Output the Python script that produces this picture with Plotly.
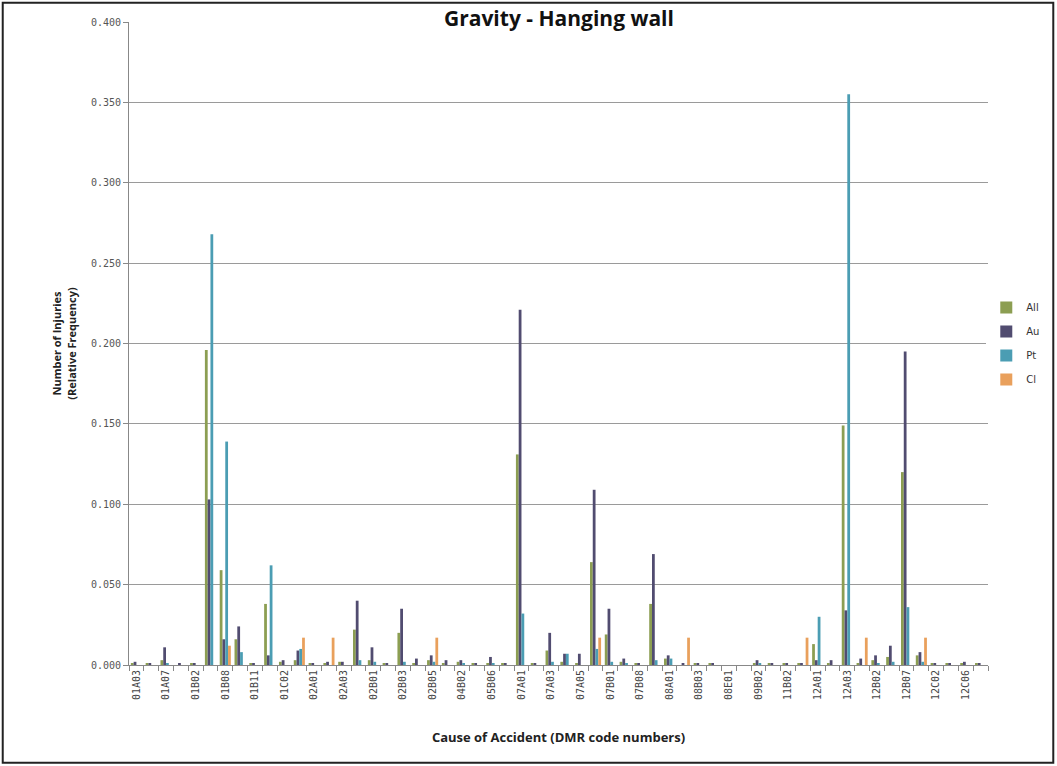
import plotly.graph_objects as go

# DMR cause codes (only every other one is labelled on the axis)
codes = ["01A03", "01A05", "01A07", "01B01", "01B02", "01B05", "01B08", "01B10",
         "01B11", "01C01", "01C02", "01C03", "02A01", "02A02", "02A03", "02A04",
         "02B01", "02B02", "02B03", "02B04", "02B05", "04B01", "04B02", "05B01",
         "05B06", "06A01", "07A01", "07A02", "07A03", "07A04", "07A05", "07A06",
         "07B01", "07B02", "07B08", "07B09", "08A01", "08B02", "08B03", "08C01",
         "08E01", "09B01", "09B02", "10A01", "11B02", "11B03", "12A01", "12A02",
         "12A03", "12B01", "12B02", "12B05", "12B07", "12C01", "12C02", "12C04",
         "12C06", "12C07"]

all_vals = [0.001, 0.001, 0.003, 0.000, 0.001, 0.196, 0.059, 0.016,
            0.001, 0.038, 0.002, 0.003, 0.001, 0.001, 0.002, 0.022,
            0.003, 0.001, 0.020, 0.001, 0.003, 0.001, 0.002, 0.001,
            0.001, 0.001, 0.131, 0.001, 0.009, 0.002, 0.001, 0.064,
            0.019, 0.002, 0.001, 0.038, 0.004, 0.000, 0.001, 0.001,
            0.000, 0.000, 0.001, 0.001, 0.001, 0.001, 0.013, 0.001,
            0.149, 0.001, 0.003, 0.005, 0.120, 0.006, 0.001, 0.001,
            0.001, 0.001]
au_vals = [0.002, 0.001, 0.011, 0.001, 0.001, 0.103, 0.016, 0.024,
           0.001, 0.006, 0.003, 0.009, 0.001, 0.002, 0.002, 0.040,
           0.011, 0.001, 0.035, 0.004, 0.006, 0.003, 0.003, 0.001,
           0.005, 0.001, 0.221, 0.001, 0.020, 0.007, 0.007, 0.109,
           0.035, 0.004, 0.001, 0.069, 0.006, 0.001, 0.001, 0.001,
           0.000, 0.000, 0.003, 0.001, 0.001, 0.001, 0.003, 0.003,
           0.034, 0.004, 0.006, 0.012, 0.195, 0.008, 0.001, 0.001,
           0.002, 0.001]
pt_vals = [0.000, 0.000, 0.001, 0.000, 0.000, 0.268, 0.139, 0.008,
           0.000, 0.062, 0.000, 0.010, 0.000, 0.000, 0.000, 0.003,
           0.002, 0.000, 0.002, 0.000, 0.002, 0.000, 0.001, 0.000,
           0.001, 0.000, 0.032, 0.000, 0.002, 0.007, 0.000, 0.010,
           0.002, 0.001, 0.000, 0.003, 0.004, 0.000, 0.000, 0.000,
           0.000, 0.000, 0.001, 0.000, 0.000, 0.000, 0.030, 0.000,
           0.355, 0.000, 0.001, 0.002, 0.036, 0.002, 0.000, 0.000,
           0.000, 0.000]
cl_vals = [0.000, 0.000, 0.000, 0.000, 0.000, 0.000, 0.012, 0.000,
           0.000, 0.000, 0.000, 0.017, 0.000, 0.017, 0.000, 0.000,
           0.000, 0.000, 0.000, 0.000, 0.017, 0.000, 0.000, 0.000,
           0.000, 0.000, 0.000, 0.000, 0.000, 0.000, 0.000, 0.017,
           0.000, 0.000, 0.000, 0.000, 0.000, 0.017, 0.000, 0.000,
           0.000, 0.000, 0.000, 0.000, 0.000, 0.017, 0.000, 0.000,
           0.000, 0.017, 0.000, 0.000, 0.000, 0.017, 0.000, 0.000,
           0.000, 0.000]

series = [("All", all_vals, "#8c9e52"),
          ("Au", au_vals, "#514c70"),
          ("Pt", pt_vals, "#4b9db3"),
          ("Cl", cl_vals, "#e9a05c")]

tick_text = [c if i % 2 == 0 else "" for i, c in enumerate(codes)]

fig = go.Figure()
for name, vals, col in series:
    fig.add_trace(go.Bar(x=codes, y=vals, name=name, marker_color=col,
                         marker_line_width=0, legendgroup=name))

fig.update_layout(
    width=1057, height=766,
    barmode="group", bargap=0.25, bargroupgap=0.0,
    paper_bgcolor="white", plot_bgcolor="white",
    margin=dict(l=129, r=69, t=22, b=101),
    font=dict(family="DejaVu Sans", size=9, color="#444"),
    annotations=[dict(text="<b>Gravity - Hanging wall</b>", x=0.5, y=1.006,
                      xref="paper", yref="paper", showarrow=False,
                      yanchor="middle",
                      font=dict(family="Open Sans", size=21, color="#111"))],
    legend=dict(x=0.998, y=0.5, yanchor="middle", tracegroupgap=5,
                font=dict(family="DejaVu Sans", size=10, color="#333"),
                itemwidth=30),
    shapes=[dict(type="rect", xref="paper", yref="paper",
                 x0=-0.147, x1=1.076, y0=-0.152, y1=1.03,
                 line=dict(color="#222", width=2))],
)
fig.update_xaxes(
    type="category", tickmode="array", tickvals=codes, ticktext=tick_text,
    tickangle=-90, ticks="outside", ticklen=5, tickcolor="#888",
    tickson="boundaries", showline=True, linecolor="#888", showgrid=False,
    tickfont=dict(family="DejaVu Sans Mono", size=10, color="#444"),
    title=dict(text="<b>Cause of Accident (DMR code numbers)</b>",
               font=dict(family="Open Sans", size=13, color="#222"),
               standoff=33),
)
fig.update_yaxes(
    range=[0, 0.4], dtick=0.05, tickformat=".3f",
    showgrid=True, gridcolor="#9a9a9a", gridwidth=1,
    showline=True, linecolor="#888", ticks="outside", ticklen=5,
    tickcolor="#888", zeroline=False,
    tickfont=dict(family="DejaVu Sans Mono", size=10, color="#555"),
    title=dict(text="<b>Number of Injuries<br>(Relative Frequency)</b>",
               font=dict(family="Open Sans", size=11, color="#222"),
               standoff=12),
)
fig.write_html("out.html", config={"displayModeBar": False},
               post_script="document.body.style.margin='0';")
